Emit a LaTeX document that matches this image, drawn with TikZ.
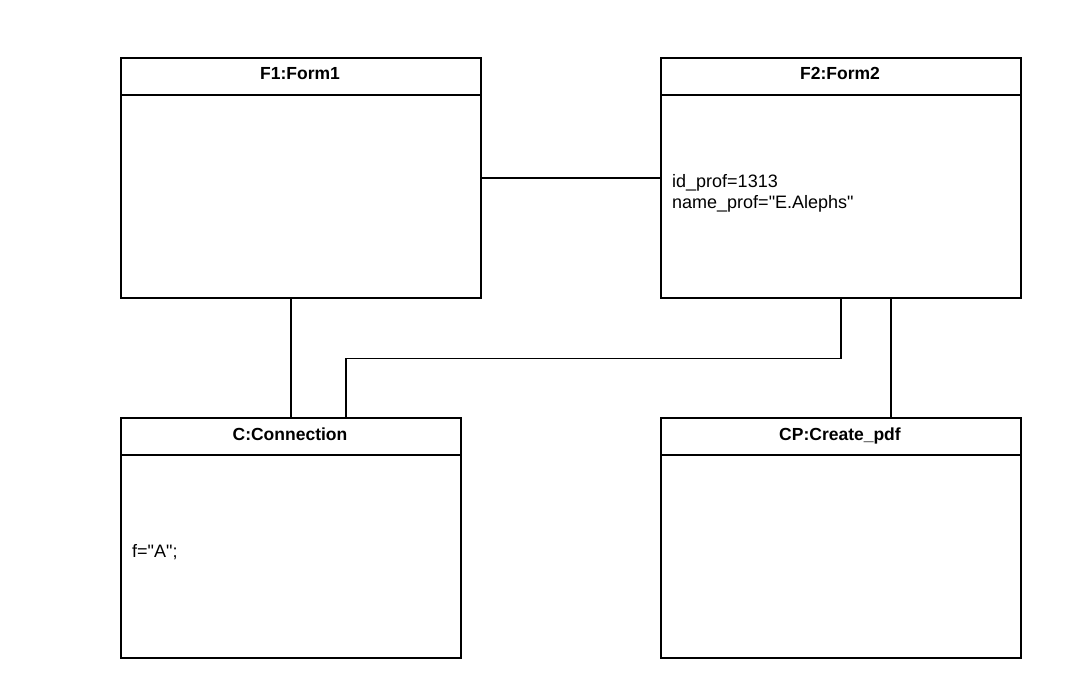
\documentclass[tikz,border=0pt]{standalone}
\usepackage{fontspec}
\setmainfont{Liberation Sans}
\tikzset{
  objbox/.style={draw, line width=1.6pt, rectangle, anchor=north west, inner sep=0pt},
  objtitle/.style={font=\fontsize{17.5}{21}\selectfont\bfseries, inner sep=0pt, anchor=base},
  objattr/.style={font=\fontsize{18}{20.5}\selectfont, align=left, anchor=base west, inner sep=0pt},
  link/.style={line width=1.6pt}
}
\begin{document}
\begin{tikzpicture}[x=1pt,y=-1pt]
  \useasboundingbox (0,0) rectangle (1085,693);
  % objects
  \node[objbox, minimum width=360pt, minimum height=240pt] (f1) at (120,57) {};
  \node[objbox, minimum width=360pt, minimum height=240pt] (f2) at (660,57) {};
  \node[objbox, minimum width=340pt, minimum height=240pt] (c) at (120,417) {};
  \node[objbox, minimum width=360pt, minimum height=240pt] (cp) at (660,417) {};
  \node[objtitle] (f1t) at (300,80) {F1:Form1};
  \node[objtitle] (f2t) at (840,80) {F2:Form2};
  \node[objtitle] (ct) at (290,440) {C:Connection};
  \node[objtitle] (cpt) at (840,440) {CP:Create\_pdf};
  \draw[link] ([yshift=-38pt]f1.north west) -- ([yshift=-38pt]f1.north east);
  \draw[link] ([yshift=-38pt]f2.north west) -- ([yshift=-38pt]f2.north east);
  \draw[link] ([yshift=-38pt]c.north west) -- ([yshift=-38pt]c.north east);
  \draw[link] ([yshift=-38pt]cp.north west) -- ([yshift=-38pt]cp.north east);
  % attributes
  \node[objattr] (f2a) at (672,208) {id\_prof=1313\\name\_prof=\textquotedbl E.Alephs\textquotedbl};
  \node[objattr] (ca) at (132,557) {f=\textquotedbl A\textquotedbl;};
  % links
  \draw[link] (f1.east) -- (f2.west);
  \draw[link] (c.north) -- (c.north |- f1.south);
  \draw[link] (f2.south) -- ++(0,60) -| ([xshift=55pt]c.north);
  \draw[link] ([xshift=50pt]f2.south) -- ([xshift=50pt]cp.north);
\end{tikzpicture}
\end{document}
